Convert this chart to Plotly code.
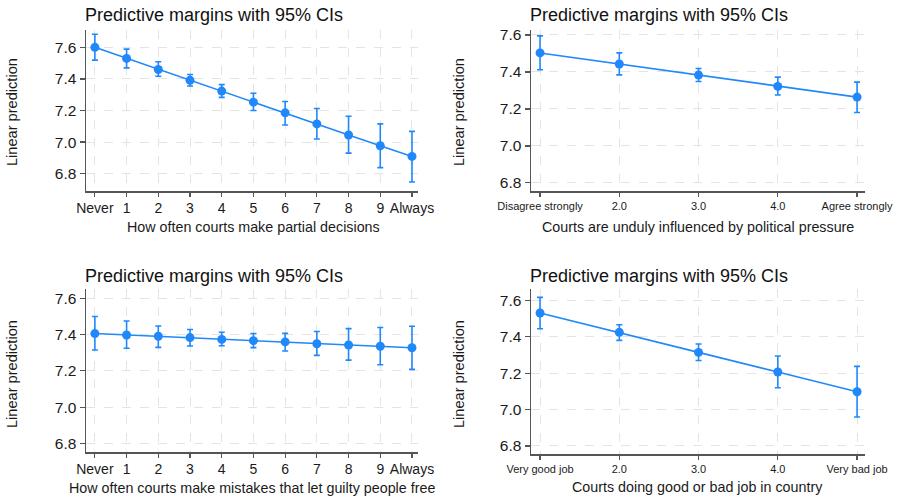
import plotly.graph_objects as go

W, H = 897, 498

# ---- data ----
p1_labels = ["Never", "1", "2", "3", "4", "5", "6", "7", "8", "9", "Always"]
p1_x = [0, 1, 2, 3, 4, 5, 6, 7, 8, 9, 10]
p1_y = [7.600, 7.530, 7.460, 7.391, 7.323, 7.253, 7.185, 7.115, 7.045, 6.977, 6.909]
p1_lo = [7.519, 7.470, 7.417, 7.355, 7.283, 7.200, 7.108, 7.019, 6.930, 6.838, 6.747]
p1_hi = [7.683, 7.589, 7.509, 7.428, 7.364, 7.309, 7.257, 7.213, 7.164, 7.115, 7.068]

p2_labels = ["Disagree strongly", "2.0", "3.0", "4.0", "Agree strongly"]
p2_x = [1, 2, 3, 4, 5]
p2_y = [7.503, 7.443, 7.383, 7.322, 7.264]
p2_lo = [7.412, 7.384, 7.348, 7.275, 7.181]
p2_hi = [7.595, 7.503, 7.419, 7.372, 7.345]

p3_labels = ["Never", "1", "2", "3", "4", "5", "6", "7", "8", "9", "Always"]
p3_x = [0, 1, 2, 3, 4, 5, 6, 7, 8, 9, 10]
p3_y = [7.405, 7.397, 7.390, 7.383, 7.373, 7.366, 7.359, 7.349, 7.342, 7.335, 7.327]
p3_lo = [7.315, 7.324, 7.329, 7.337, 7.338, 7.328, 7.309, 7.285, 7.259, 7.234, 7.208]
p3_hi = [7.499, 7.474, 7.447, 7.427, 7.412, 7.405, 7.406, 7.416, 7.432, 7.438, 7.445]

p4_labels = ["Very good job", "2.0", "3.0", "4.0", "Very bad job"]
p4_x = [1, 2, 3, 4, 5]
p4_y = [7.530, 7.424, 7.314, 7.206, 7.098]
p4_lo = [7.444, 7.380, 7.269, 7.120, 6.959]
p4_hi = [7.616, 7.466, 7.360, 7.294, 7.237]

y_ticks = [6.8, 7.0, 7.2, 7.4, 7.6]
y_ticktext = ["6.8", "7.0", "7.2", "7.4", "7.6"]

title_text = "Predictive margins with 95% CIs"
y_title = "Linear prediction"
x_titles = [
    "How often courts make partial decisions",
    "Courts are unduly influenced by political pressure",
    "How often courts make mistakes that let guilty people free",
    "Courts doing good or bad job in country",
]

BLUE = "#2088fb"
FONT = "Liberation Sans, Arial, Helvetica, sans-serif"

panels = [
    dict(x=p1_x, y=p1_y, lo=p1_lo, hi=p1_hi, labels=p1_labels,
         dom_x=(86, 418), dom_y=(30, 191), xr=(-0.28, 10.19), yr=(6.69, 7.71), tfs=14),
    dict(x=p2_x, y=p2_y, lo=p2_lo, hi=p2_hi, labels=p2_labels,
         dom_x=(531, 865), dom_y=(30, 191), xr=(0.886, 5.10), yr=(6.756, 7.627), tfs=11),
    dict(x=p3_x, y=p3_y, lo=p3_lo, hi=p3_hi, labels=p3_labels,
         dom_x=(86, 418), dom_y=(289, 452), xr=(-0.28, 10.19), yr=(6.754, 7.650), tfs=14),
    dict(x=p4_x, y=p4_y, lo=p4_lo, hi=p4_hi, labels=p4_labels,
         dom_x=(531, 865), dom_y=(289, 454), xr=(0.886, 5.10), yr=(6.756, 7.662), tfs=11),
]

title_pos = [(83, 15), (528, 15), (83, 276), (528, 276)]
xt_pos = [(253, 227), (698, 227), (252, 488), (697, 487)]
yt_pos = [(12, 112), (459, 112), (12, 374), (459, 374)]

fig = go.Figure()
layout = dict(
    width=W, height=H, margin=dict(l=0, r=0, t=0, b=0, autoexpand=False),
    paper_bgcolor="white", plot_bgcolor="white", showlegend=False,
    font=dict(family=FONT, color="#1a1a1a"),
)
annotations = []

for i, p in enumerate(panels):
    n = i + 1
    xa = "x" if n == 1 else f"x{n}"
    ya = "y" if n == 1 else f"y{n}"
    fig.add_trace(go.Scatter(
        x=p["x"], y=p["y"], xaxis=xa, yaxis=ya, mode="lines+markers",
        line=dict(color=BLUE, width=1.6),
        marker=dict(color=BLUE, size=9),
        error_y=dict(type="data", symmetric=False,
                     array=[h - v for h, v in zip(p["hi"], p["y"])],
                     arrayminus=[v - l for l, v in zip(p["lo"], p["y"])],
                     color=BLUE, thickness=1.6, width=3),
        hoverinfo="skip",
    ))
    x0, x1 = p["dom_x"]
    t0, b0 = p["dom_y"]
    layout["xaxis" if n == 1 else f"xaxis{n}"] = dict(
        domain=[x0 / W, x1 / W], anchor=ya, range=list(p["xr"]),
        tickmode="array", tickvals=p["x"], ticktext=p["labels"],
        showline=True, linecolor="#555555", linewidth=1.5,
        ticks="outside", ticklen=4, tickcolor="#555555", tickwidth=1.2,
        showgrid=True, gridcolor="#e4e4e4", griddash="dash", gridwidth=1,
        zeroline=False, tickfont=dict(size=p["tfs"], family=FONT, color="#1a1a1a"),
        fixedrange=True, automargin=False,
    )
    layout["yaxis" if n == 1 else f"yaxis{n}"] = dict(
        domain=[1 - b0 / H, 1 - t0 / H], anchor=xa, range=list(p["yr"]),
        tickmode="array", tickvals=y_ticks, ticktext=y_ticktext,
        showline=True, linecolor="#555555", linewidth=1.5,
        ticks="outside", ticklen=5, tickcolor="#555555", tickwidth=1.2,
        showgrid=True, gridcolor="#e4e4e4", griddash="dash", gridwidth=1,
        zeroline=False, tickfont=dict(size=15.5, family=FONT, color="#1a1a1a"),
        fixedrange=True, automargin=False,
    )
    tx, ty = title_pos[i]
    annotations.append(dict(text=title_text, x=tx / W, y=1 - ty / H, xref="paper", yref="paper",
                            xanchor="left", yanchor="middle", showarrow=False,
                            font=dict(size=18, family=FONT, color="#111111")))
    ax_, ay_ = xt_pos[i]
    annotations.append(dict(text=x_titles[i], x=ax_ / W, y=1 - ay_ / H, xref="paper", yref="paper",
                            xanchor="center", yanchor="middle", showarrow=False,
                            font=dict(size=14.3, family=FONT, color="#1a1a1a")))
    yx, yy = yt_pos[i]
    annotations.append(dict(text=y_title, x=yx / W, y=1 - yy / H, xref="paper", yref="paper",
                            xanchor="center", yanchor="middle", showarrow=False, textangle=-90,
                            font=dict(size=14.6, family=FONT, color="#1a1a1a")))

layout["annotations"] = annotations
fig.update_layout(**layout)
fig.write_html("out.html", config={"displayModeBar": False, "staticPlot": True},
               post_script="document.body.style.margin='0';document.body.style.overflow='hidden';")
